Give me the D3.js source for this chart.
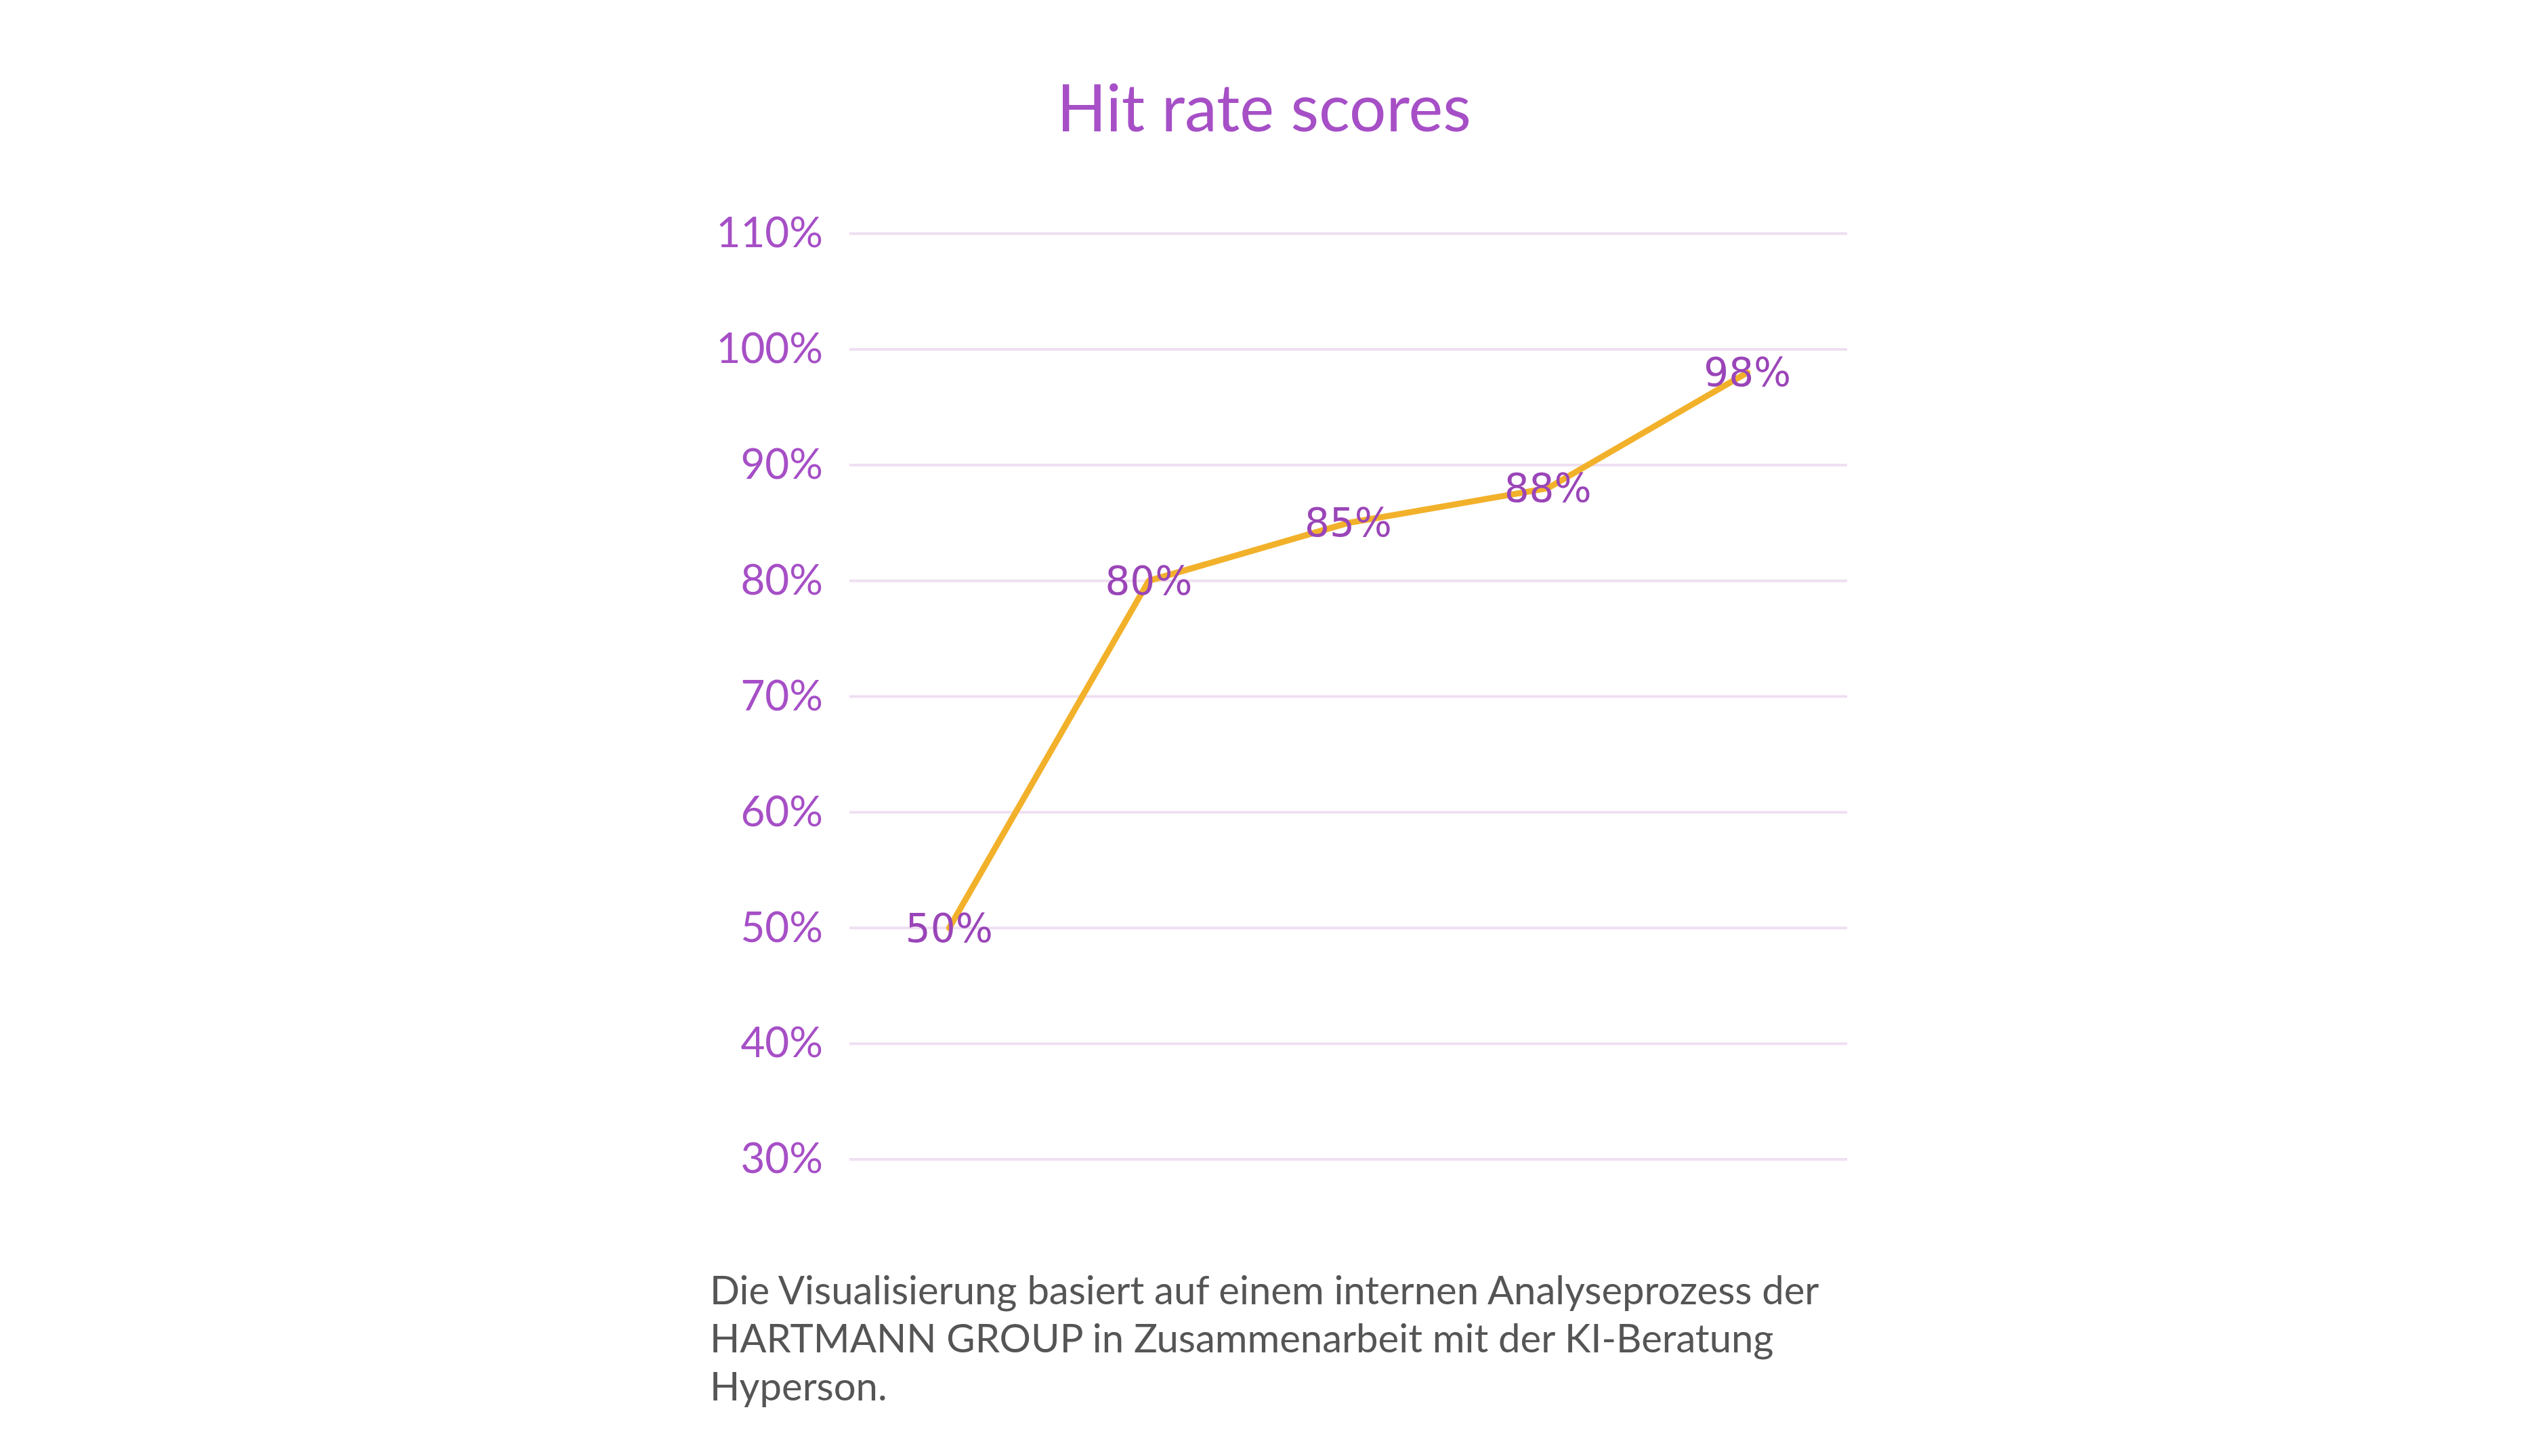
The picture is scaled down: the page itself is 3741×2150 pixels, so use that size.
<!DOCTYPE html>
<html>
<head>
<meta charset="utf-8">
<script src="https://cdn.jsdelivr.net/npm/d3@7"></script>
<style>
  body { margin: 0; background: #fff; }
</style>
</head>
<body>
<svg width="3741" height="2150"></svg>
<script>
const categories = ["A", "B", "C", "D", "E"]
const values = [50, 80, 85, 88, 98]
const yTicks = [30, 40, 50, 60, 70, 80, 90, 100, 110]
const captionLines = [
  "Die Visualisierung basiert auf einem internen Analyseprozess der",
  "HARTMANN GROUP in Zusammenarbeit mit der KI-Beratung",
  "Hyperson."
]

const svg = d3.select("svg")
const purple = "#a64fc6"

const x = d3.scalePoint().domain(categories).range([1254, 2727]).padding(0.5)
const y = d3.scaleLinear().domain([30, 110]).range([1712, 345])

svg.append("text")
  .attr("x", 1866).attr("y", 160)
  .attr("dy", "0.35em")
  .attr("text-anchor", "middle")
  .attr("font-family", "Lato, 'Open Sans', sans-serif")
  .attr("font-size", 96)
  .attr("fill", purple)
  .text("Hit rate scores")

// grid lines
svg.append("g").selectAll("line").data(yTicks).join("line")
  .attr("x1", 1254).attr("x2", 2727)
  .attr("y1", d => y(d)).attr("y2", d => y(d))
  .attr("stroke", "#efdff2").attr("stroke-width", 4)

// y axis labels
const yAxis = svg.append("g")
  .attr("transform", "translate(1215,0)")
  .call(d3.axisLeft(y).tickValues(yTicks).tickFormat(d => d + "%").tickSize(0).tickPadding(0))
yAxis.select(".domain").remove()
yAxis.selectAll("text")
  .attr("font-family", "Lato, 'Open Sans', sans-serif")
  .attr("font-size", 62)
  .attr("fill", purple)

const line = d3.line()
  .x((d, i) => x(categories[i]))
  .y(d => y(d))

svg.append("path").datum(values)
  .attr("d", line)
  .attr("fill", "none")
  .attr("stroke", "#f2b12a")
  .attr("stroke-width", 9)
  .attr("stroke-linejoin", "round")
  .attr("stroke-linecap", "round")

svg.append("g").selectAll("text").data(values).join("text")
  .attr("x", (d, i) => x(categories[i]))
  .attr("y", d => y(d))
  .attr("dy", "0.35em")
  .attr("text-anchor", "middle")
  .attr("font-family", "'DejaVu Sans', Verdana, sans-serif")
  .attr("font-size", 58)
  .attr("fill", "#9a45b8")
  .text(d => d + "%")

svg.append("g").selectAll("text").data(captionLines).join("text")
  .attr("x", 1048)
  .attr("y", (d, i) => 1906 + i * 71)
  .attr("dy", "0.35em")
  .attr("font-family", "Lato, 'Open Sans', sans-serif")
  .attr("font-size", 58)
  .attr("fill", "#555")
  .text(d => d)
</script>
</body>
</html>
